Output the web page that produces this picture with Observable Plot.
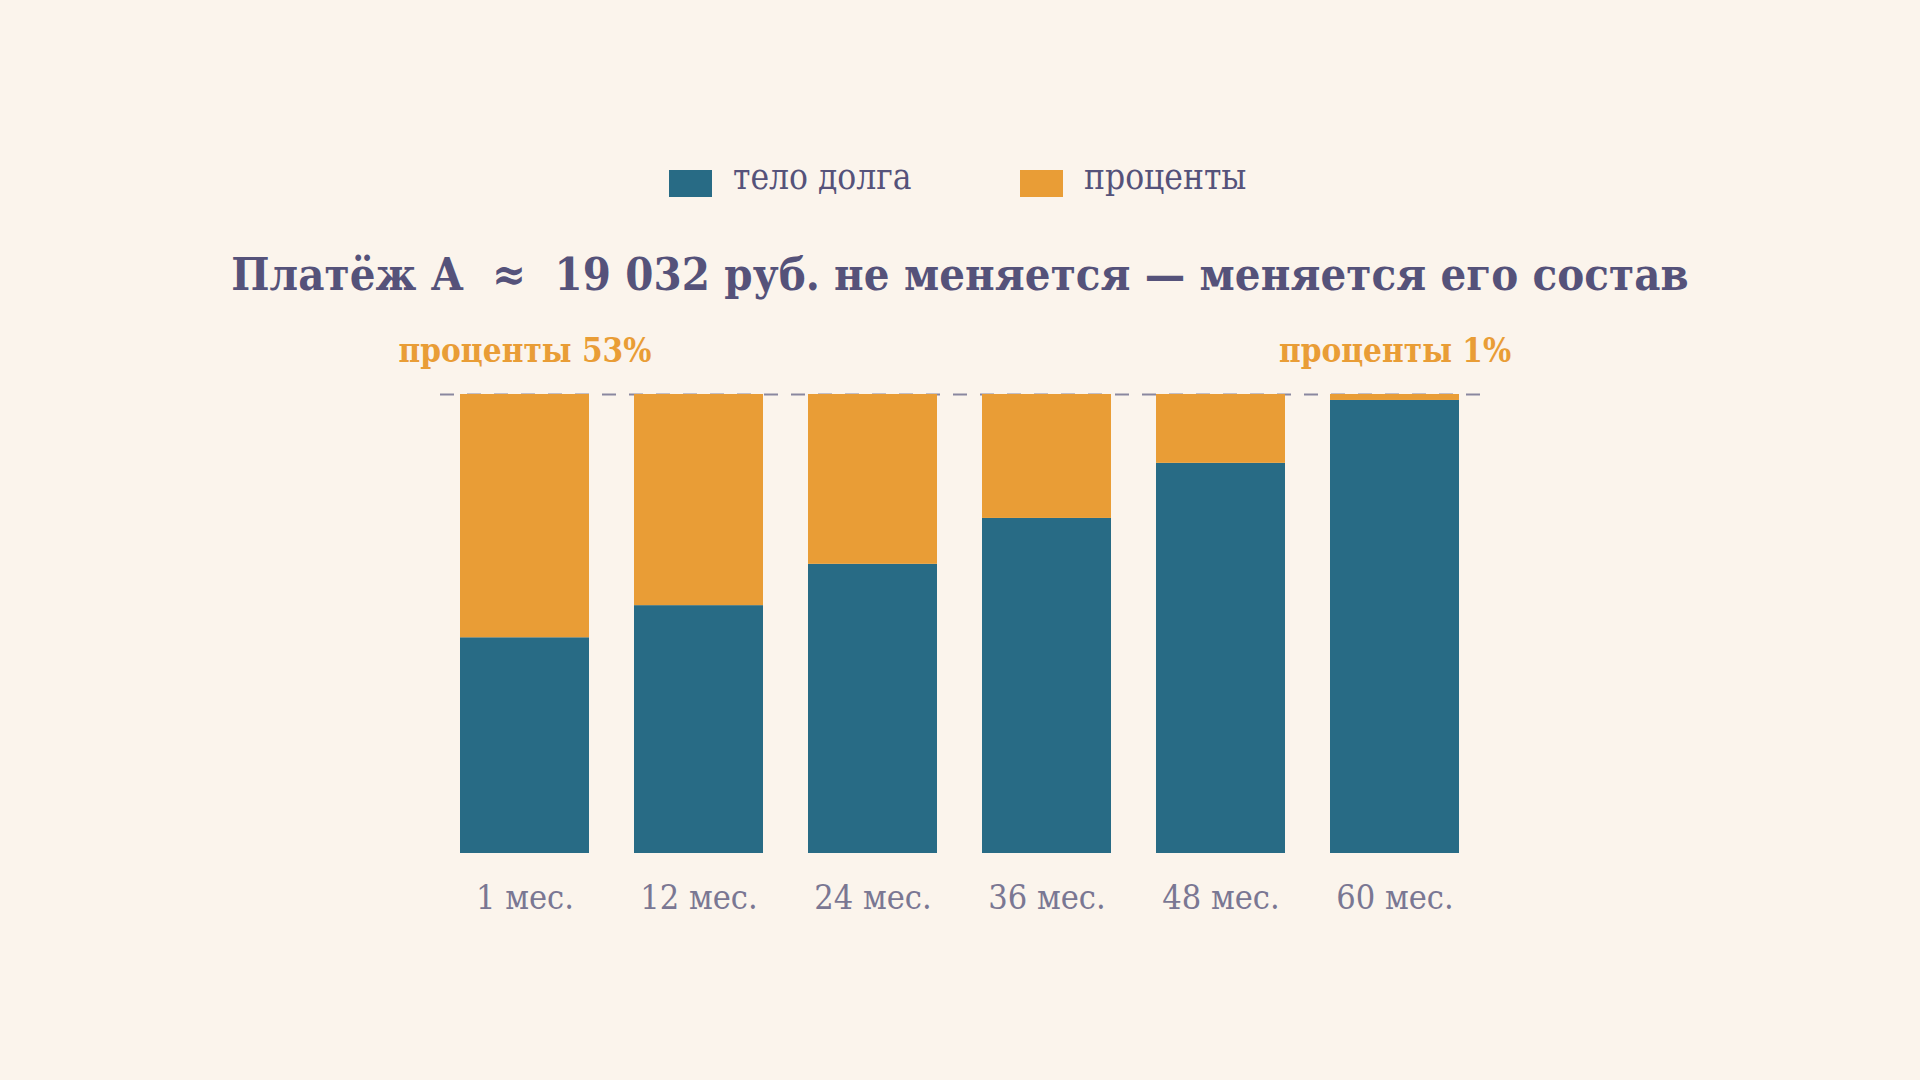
<!DOCTYPE html>
<html>
<head>
<meta charset="utf-8">
<script src="https://cdn.jsdelivr.net/npm/d3@7"></script>
<script src="https://cdn.jsdelivr.net/npm/@observablehq/plot@0.6"></script>
<style>
  html, body { margin: 0; padding: 0; background: #fbf4ec; }
  #page { position: relative; width: 1920px; height: 1080px; background: #fbf4ec; overflow: hidden;
          font-family: "DejaVu Serif Condensed", "DejaVu Serif", serif; }
  #legend { position: absolute; top: 160px; left: 0; width: 1920px; height: 46px; }
  .item { position: absolute; top: 0; height: 46px; display: flex; align-items: center; }
  .sw { width: 43px; height: 27px; margin-right: 21px; }
  .lt { font-size: 35px; color: #55527a; white-space: nowrap; position: relative; top: -6px; }
  #title { position: absolute; top: 248px; left: 0; width: 1920px; text-align: center;
           font-size: 45px; font-weight: bold; color: #55527a; white-space: pre; letter-spacing: 0.1px; }
  #chart { position: absolute; left: 0; top: 0; }
</style>
</head>
<body>
<div id="page">
  <div id="legend"></div>
  <div id="title"></div>
  <div id="chart"></div>
</div>
<script>
const months = ["1 мес.", "12 мес.", "24 мес.", "36 мес.", "48 мес.", "60 мес."];
const principal = [47, 54, 63, 73, 85, 98.7];
const interest = [53, 46, 37, 27, 15, 1.3];
const seriesNames = ["тело долга", "проценты"];
const seriesColors = ["#286b85", "#e99d36"];
const titleText = "Платёж А  ≈  19 032 руб. не меняется — меняется его состав";
const annotations = [
  {month: "1 мес.", label: "проценты 53%"},
  {month: "60 мес.", label: "проценты 1%"}
];

// legend
const legend = document.getElementById("legend");
const legendX = [669, 1020];
seriesNames.forEach((name, i) => {
  const it = document.createElement("div");
  it.className = "item";
  it.style.left = legendX[i] + "px";
  it.innerHTML = `<div class="sw" style="background:${seriesColors[i]}"></div><div class="lt">${name}</div>`;
  legend.appendChild(it);
});
document.getElementById("title").textContent = titleText;

const rows = [];
months.forEach((m, i) => rows.push({month: m, series: seriesNames[0], value: principal[i]}));
months.forEach((m, i) => rows.push({month: m, series: seriesNames[1], value: interest[i]}));

const plot = Plot.plot({
  width: 1920,
  height: 1080,
  marginTop: 394,
  marginBottom: 227,
  marginLeft: 414.5,
  marginRight: 415.5,
  style: {background: "transparent", fontFamily: "'DejaVu Serif Condensed', 'DejaVu Serif', serif", overflow: "visible"},
  x: {domain: months, padding: 0.2614, label: null},
  y: {domain: [0, 100], axis: null},
  color: {domain: seriesNames, range: seriesColors},
  marks: [
    Plot.ruleY([100], {stroke: "#8a879f", strokeWidth: 2, strokeDasharray: "14,13", insetLeft: 25.5, insetRight: 22.5}),
    Plot.barY(rows, {x: "month", y: "value", fill: "series", order: seriesNames}),
    Plot.axisX({tickSize: 0, tickPadding: 31, fontSize: 34, color: "#7a7793", label: null}),
    Plot.text(annotations, {x: "month", y: () => 100, text: "label", dy: -43, fill: "#e99d36",
      fontSize: 33, fontWeight: "bold", lineAnchor: "middle"})
  ]
});
document.getElementById("chart").appendChild(plot);
</script>
</body>
</html>
